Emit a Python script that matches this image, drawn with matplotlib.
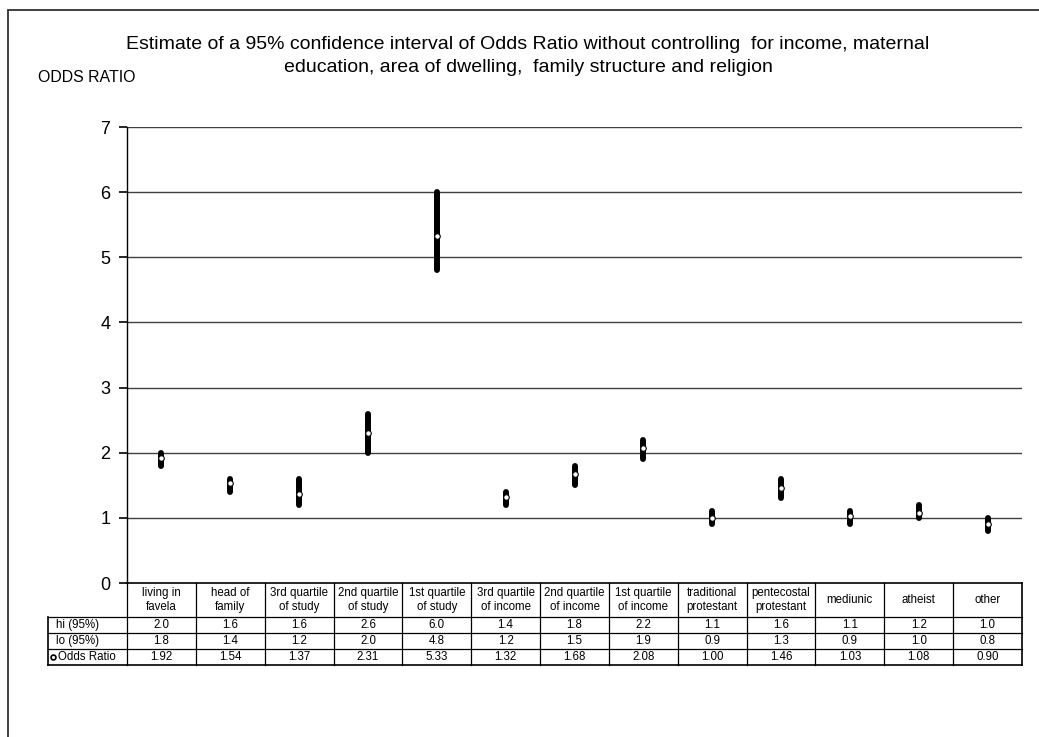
import matplotlib.pyplot as plt
from matplotlib.patches import Rectangle
from matplotlib.lines import Line2D
import matplotlib.transforms as mtransforms

plt.rcParams['font.family'] = ['Liberation Sans', 'DejaVu Sans']

# --------------------------------------------------------------
# odds ratios with 95% confidence bounds
categories = ["living in\nfavela", "head of\nfamily", "3rd quartile\nof study", "2nd quartile\nof study",
              "1st quartile\nof study", "3rd quartile\nof income", "2nd quartile\nof income",
              "1st quartile\nof income", "traditional\nprotestant", "pentecostal\nprotestant",
              "mediunic", "atheist", "other"]
hi_95 = [2.0, 1.6, 1.6, 2.6, 6.0, 1.4, 1.8, 2.2, 1.1, 1.6, 1.1, 1.2, 1.0]
lo_95 = [1.8, 1.4, 1.2, 2.0, 4.8, 1.2, 1.5, 1.9, 0.9, 1.3, 0.9, 1.0, 0.8]
odds_ratio = [1.92, 1.54, 1.37, 2.31, 5.33, 1.32, 1.68, 2.08, 1.00, 1.46, 1.03, 1.08, 0.90]

fig = plt.figure(figsize=(10.39, 7.37), dpi=100)
ax = fig.add_axes([127/1039, 1-583/737, 895/1039, 456/737])

# outer chart frame
fig.patches.append(Rectangle((8/1039, -0.05), 1.1, 1-10/737+0.05, transform=fig.transFigure,
                             fill=False, edgecolor='#303030', linewidth=1.3))

n = len(categories)
for i in range(n):
    ax.plot([i, i], [lo_95[i], hi_95[i]], color='black', linewidth=4.3, solid_capstyle='round', zorder=3)
ax.plot(range(n), odds_ratio, linestyle='none', marker='o', markersize=4, markerfacecolor='white',
        markeredgecolor='black', markeredgewidth=0.8, zorder=4)

ax.set_xlim(-0.5, n-0.5)
ax.set_ylim(0, 7)
ax.set_yticks(range(8))
ax.set_xticks([])
for y in range(1, 8):
    ax.axhline(y, color='#404040', linewidth=1.0, zorder=1)
for s in ['top', 'right', 'bottom']:
    ax.spines[s].set_visible(False)
ax.spines['left'].set_linewidth(1.0)
ax.tick_params(axis='y', labelsize=13, length=6, width=1.2, pad=6)

# --------------------------------------------------------------
# data table under the axis
trans = mtransforms.blended_transform_factory(ax.transData, ax.transAxes)
ph = 1/456
row_edges = [0, -34*ph, -50*ph, -66*ph, -82*ph]
left_x = -1.65
right_x = n-0.5
tfs = 8.3

def hline(x0, x1, y, lw=0.9):
    ax.add_line(Line2D([x0, x1], [y, y], transform=trans, color='black', linewidth=lw, clip_on=False))

def vline(x, y0, y1, lw=0.9):
    ax.add_line(Line2D([x, x], [y0, y1], transform=trans, color='black', linewidth=lw, clip_on=False))

hline(-0.5, right_x, row_edges[0], 1.2)
for r in row_edges[1:4]:
    hline(left_x, right_x, r)
hline(left_x, right_x, row_edges[4], 1.2)
vline(left_x, row_edges[1], row_edges[4], 1.2)
vline(right_x, row_edges[0], row_edges[4], 1.2)
for i in range(n):
    vline(i-0.5, row_edges[0], row_edges[4])

for i in range(n):
    ax.text(i, (row_edges[0]+row_edges[1])/2, categories[i], transform=trans, ha='center', va='center',
            fontsize=tfs, linespacing=1.25, clip_on=False)
    ax.text(i, (row_edges[1]+row_edges[2])/2, "%.1f" % hi_95[i], transform=trans, ha='center', va='center', fontsize=tfs)
    ax.text(i, (row_edges[2]+row_edges[3])/2, "%.1f" % lo_95[i], transform=trans, ha='center', va='center', fontsize=tfs)
    ax.text(i, (row_edges[3]+row_edges[4])/2, "%.2f" % odds_ratio[i], transform=trans, ha='center', va='center', fontsize=tfs)

ax.text(left_x+0.12, (row_edges[1]+row_edges[2])/2, "hi (95%)", transform=trans, ha='left', va='center', fontsize=tfs)
ax.text(left_x+0.12, (row_edges[2]+row_edges[3])/2, "lo (95%)", transform=trans, ha='left', va='center', fontsize=tfs)
ax.plot([left_x+0.08], [(row_edges[3]+row_edges[4])/2], transform=trans, marker='o', markersize=3.5,
        markerfacecolor='white', markeredgecolor='black', markeredgewidth=1.2, clip_on=False)
ax.text(left_x+0.15, (row_edges[3]+row_edges[4])/2, "Odds Ratio", transform=trans, ha='left', va='center', fontsize=tfs)

fig.text(528/1039, 1-56/737, "Estimate of a 95% confidence interval of Odds Ratio without controlling  for income, maternal\n"
         "education, area of dwelling,  family structure and religion", ha='center', va='center', fontsize=14,
         linespacing=1.4)
fig.text(38/1039, 1-78/737, "ODDS RATIO", ha='left', va='center', fontsize=11.4)

fig.savefig("out.png", dpi=100)
